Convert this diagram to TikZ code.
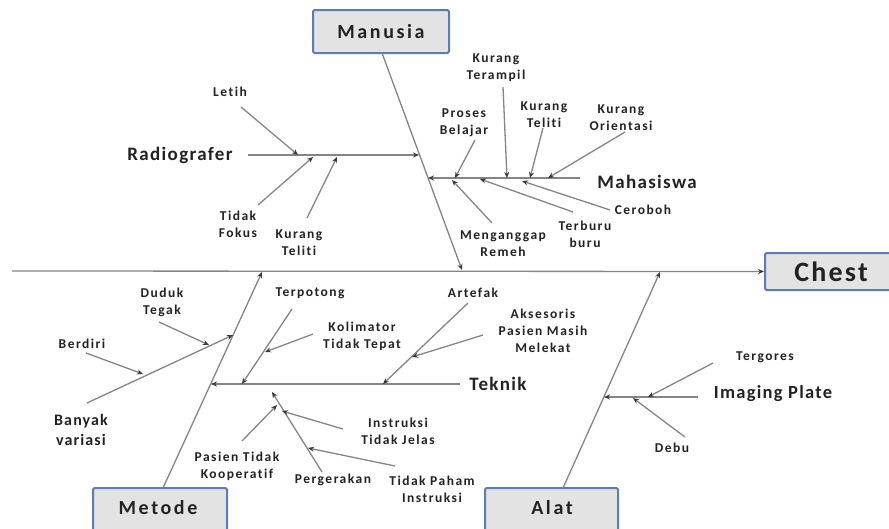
\documentclass[tikz,border=0pt]{standalone}
\usepackage{fontspec}
\usetikzlibrary{arrows.meta}
\setmainfont{Carlito}
% letter-spaced bold faces for the different label sizes
\newfontfamily\smallface{Carlito Bold}[LetterSpace=11, Ligatures=NoCommon]
\newfontfamily\midface{Carlito Bold}[LetterSpace=7, Ligatures=NoCommon]
\newfontfamily\boxface{Carlito Bold}[LetterSpace=13, Ligatures=NoCommon]
\newfontfamily\headface{Carlito Bold}[LetterSpace=8, Ligatures=NoCommon]
\definecolor{bonec}{HTML}{858585}
\definecolor{tipc}{HTML}{3A3A3A}
\definecolor{txtc}{HTML}{222222}
\definecolor{boxline}{HTML}{5B7DB6}
\definecolor{boxfill}{HTML}{E3E3E3}
\tikzset{
  lbl/.style={inner sep=0pt, align=center, text=txtc,
    font=\smallface\fontsize{13.5}{17}\selectfont},
  cat/.style={inner sep=0pt, align=center, text=txtc,
    font=\midface\fontsize{19}{22}\selectfont},
  catbox/.style={draw=boxline, line width=2pt, fill=boxfill, rounded corners=1.5pt,
    text=txtc, inner sep=0pt, font=\boxface\fontsize{20}{24}\selectfont},
  bone/.style={draw=bonec, line width=1.3pt},
  arr/.style={bone, -{Stealth[length=6pt,width=5pt,color=tipc]}},
}
\begin{document}
\begin{tikzpicture}[x=1pt,y=-1pt]
\useasboundingbox (0,0) rectangle (889,528);
\clip (0,0) rectangle (889,528);
\fill[white] (0,0) rectangle (889,528);

% ---------- category boxes ----------
\node[catbox, minimum width=136pt, minimum height=43pt] (man) at (381,31.5) {Manusia};
\node[catbox, minimum width=132pt, minimum height=37pt, font=\headface\fontsize{28}{32}\selectfont] (chest) at (831,271.5) {Chest};
\node[catbox, minimum width=134pt, minimum height=48pt] (met) at (160,512) {};
\node[lbl, font=\boxface\fontsize{20}{24}\selectfont] (mettxt) at (158,508) {Metode};
\node[catbox, minimum width=133pt, minimum height=48pt] (alat) at (551.5,512) {};
\node[lbl, font=\boxface\fontsize{20}{24}\selectfont] (alattxt) at (552,508) {Alat};

% ---------- main spine ----------
\coordinate (tail) at (12,271);
\draw[arr] (tail) -- (chest.west);

% ---------- major bones ----------
\coordinate (manS) at (382,53);
\coordinate (manE) at (462,270);
\coordinate (metS) at (163,488);
\coordinate (metE) at (262,272);
\coordinate (alaS) at (563,488);
\coordinate (alaE) at (660,272);
\draw[arr] (manS) -- (manE);
\draw[arr] (metS) -- (metE);
\draw[arr] (alaS) -- (alaE);

% ---------- Manusia: Radiografer ----------
\node[cat] (radio) at (180,155) {Radiografer};
\coordinate (radS) at (248,155);
\coordinate (radE) at (419,155);
\draw[arr] (radS) -- (radE);
\node[lbl] (letih) at (230,92) {Letih};
\coordinate (letS) at (241,107); \coordinate (letE) at (298,155);
\draw[arr] (letS) -- (letE);
\node[lbl] (tfok) at (238,224) {Tidak\\Fokus};
\coordinate (tfS) at (258,205); \coordinate (tfE) at (313,157);
\draw[arr] (tfS) -- (tfE);
\node[lbl] (kt1) at (299,243) {Kurang\\Teliti};
\coordinate (kt1S) at (307,218); \coordinate (kt1E) at (337,157);
\draw[arr] (kt1S) -- (kt1E);

% ---------- Manusia: Mahasiswa ----------
\node[cat] (maha) at (647,182) {Mahasiswa};
\coordinate (mhS) at (580,178);
\coordinate (mhE) at (428,178);
\draw[arr] (mhS) -- (mhE);
\node[lbl] (kter) at (496,68) {Kurang\\Terampil};
\coordinate (kterS) at (503,87); \coordinate (kterE) at (507,178);
\draw[arr] (kterS) -- (kterE);
\node[lbl] (pbel) at (464,123) {Proses\\Belajar};
\coordinate (pbS) at (475,140); \coordinate (pbE) at (455,178);
\draw[arr] (pbS) -- (pbE);
\node[lbl] (kt2) at (544,115) {Kurang\\Teliti};
\coordinate (kt2S) at (543,128); \coordinate (kt2E) at (530,178);
\draw[arr] (kt2S) -- (kt2E);
\node[lbl] (kori) at (621,118) {Kurang\\Orientasi};
\coordinate (koS) at (625,132); \coordinate (koE) at (548,178);
\draw[arr] (koS) -- (koE);
\node[lbl] (meng) at (503,244) {Menganggap\\Remeh};
\coordinate (mgS) at (492,223); \coordinate (mgE) at (452,180);
\draw[arr] (mgS) -- (mgE);
\node[lbl] (terb) at (585,234) {Terburu\\buru};
\coordinate (tbS) at (573,212); \coordinate (tbE) at (480,179);
\draw[arr] (tbS) -- (tbE);
\node[lbl] (cero) at (643,210) {Ceroboh};
\coordinate (crS) at (610,210); \coordinate (crE) at (522,181);
\draw[arr] (crS) -- (crE);

% ---------- Metode: Banyak variasi ----------
\node[lbl, font=\midface\fontsize{16}{20}\selectfont] (bany) at (81,430) {Banyak\\variasi};
\coordinate (bvS) at (87,403); \coordinate (bvE) at (233,335);
\draw[arr] (bvS) -- (bvE);
\node[lbl] (berd) at (82,344) {Berdiri};
\coordinate (bdS) at (86,353); \coordinate (bdE) at (143,374);
\draw[arr] (bdS) -- (bdE);
\node[lbl] (dudu) at (162,302) {Duduk\\Tegak};
\coordinate (ddS) at (159,322); \coordinate (ddE) at (209,345);
\draw[arr] (ddS) -- (ddE);

% ---------- Metode: Teknik ----------
\node[cat] (tekn) at (498,384) {Teknik};
\coordinate (tkS) at (460,384); \coordinate (tkE) at (211,384);
\draw[arr] (tkS) -- (tkE);
\node[lbl] (terp) at (310,293) {Terpotong};
\coordinate (tpS) at (292,309); \coordinate (tpE) at (242,384);
\draw[arr] (tpS) -- (tpE);
\node[lbl] (koli) at (362,336) {Kolimator\\Tidak Tepat};
\coordinate (klS) at (313,334); \coordinate (klE) at (265,352);
\draw[arr] (klS) -- (klE);
\node[lbl] (arte) at (473,293) {Artefak};
\coordinate (arS) at (468,303); \coordinate (arE) at (383,384);
\draw[arr] (arS) -- (arE);
\node[lbl] (akse) at (543,331) {Aksesoris\\Pasien Masih\\Melekat};
\coordinate (akS) at (483,335); \coordinate (akE) at (412,357);
\draw[arr] (akS) -- (akE);

% ---------- Metode: Pergerakan ----------
\node[lbl] (perg) at (333,480) {Pergerakan};
\coordinate (pgS) at (322,472); \coordinate (pgE) at (272,392);
\draw[arr] (pgS) -- (pgE);
\node[lbl] (pasi) at (237,466) {Pasien Tidak\\Kooperatif};
\coordinate (psS) at (242,441); \coordinate (psE) at (277,405);
\draw[arr] (psS) -- (psE);
\node[lbl] (injl) at (398,431) {Instruksi\\Tidak Jelas};
\coordinate (ijS) at (343,429); \coordinate (ijE) at (282,411);
\draw[arr] (ijS) -- (ijE);
\node[lbl] (tpah) at (432,489) {Tidak Paham\\Instruksi};
\coordinate (thS) at (395,466); \coordinate (thE) at (308,448);
\draw[arr] (thS) -- (thE);

% ---------- Alat: Imaging Plate ----------
\node[cat, font=\midface\fontsize{18.5}{22}\selectfont] (imgp) at (773,394) {Imaging Plate};
\coordinate (ipS) at (698,397); \coordinate (ipE) at (604,397);
\draw[arr] (ipS) -- (ipE);
\node[lbl] (terg) at (765,357) {Tergores};
\coordinate (tgS) at (713,363); \coordinate (tgE) at (648,397);
\draw[arr] (tgS) -- (tgE);
\node[lbl] (debu) at (672,448) {Debu};
\coordinate (dbS) at (685,437); \coordinate (dbE) at (633,398);
\draw[arr] (dbS) -- (dbE);
\end{tikzpicture}
\end{document}
